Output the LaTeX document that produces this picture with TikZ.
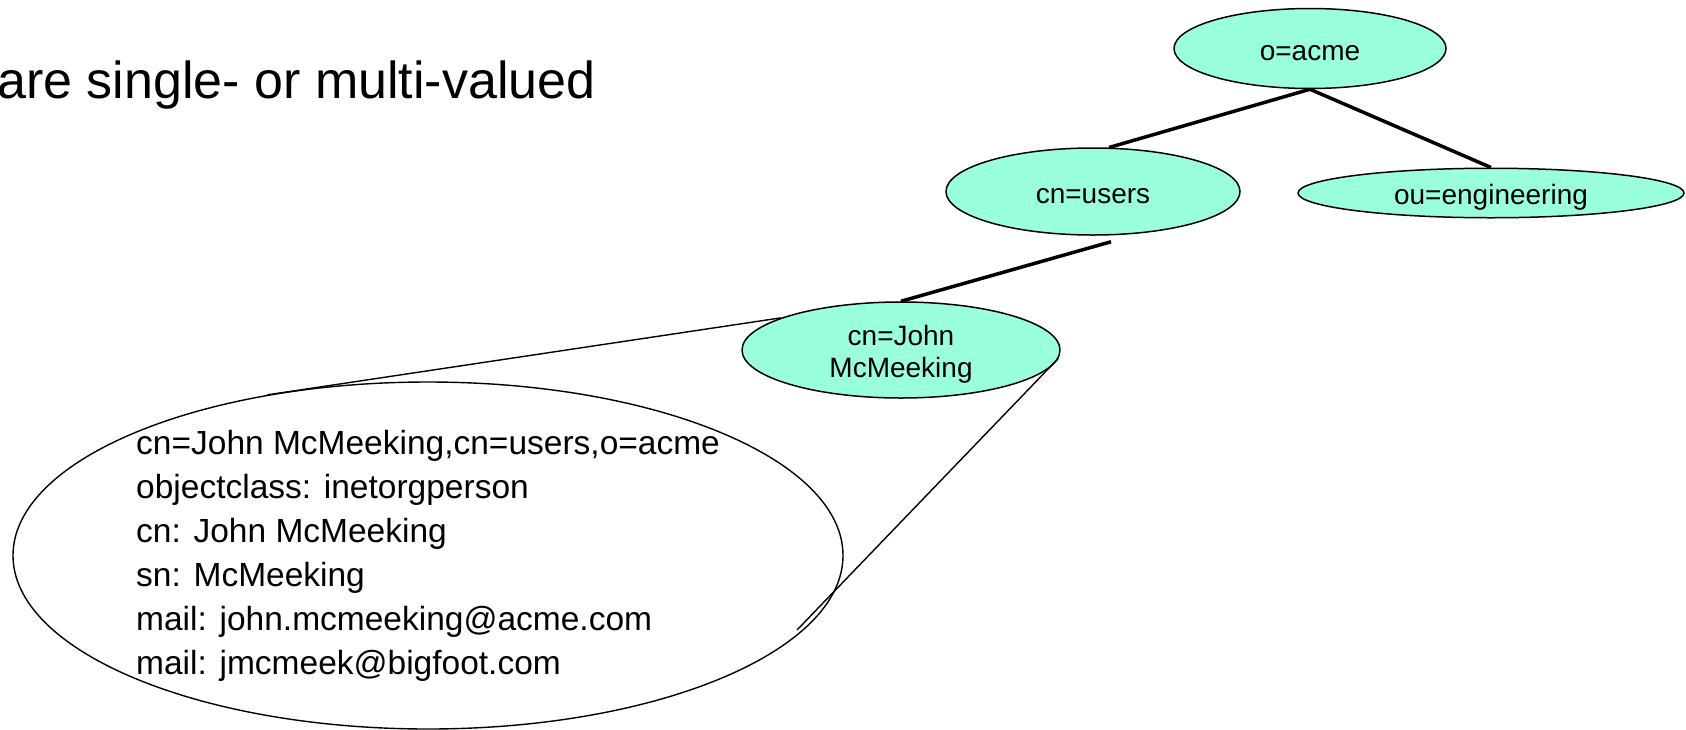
\documentclass[tikz,border=0pt]{standalone}
\usepackage{fontspec}
\setmainfont{Liberation Sans}
\frenchspacing
\usetikzlibrary{shapes.geometric,calc}
\definecolor{mint}{RGB}{153,255,221}
% attribute name separator: colon followed by a slightly wide gap
\newcommand\attrcolon{:\hspace{0.38em}}
\tikzset{
  treenode/.style={ellipse, draw=black, line width=1.5pt, fill=mint, inner sep=0pt,
                   align=center, font=\fontsize{28}{32}\selectfont},
  oneline/.style={text height=29pt, text depth=6pt},
  branch/.style={line width=3.5pt},
  callout/.style={line width=1.4pt},
  attrline/.style={anchor=base west, inner sep=0pt, font=\fontsize{33.5}{44}\selectfont},
}
\begin{document}
\begin{tikzpicture}[x=1pt,y=-1pt]
\useasboundingbox (0,0) rectangle (1686,729);

% heading (runs off the left edge)
\node[anchor=base west, inner sep=0pt, font=\fontsize{52}{60}\selectfont] (title) at (-3,98)
  {are single- or multi-valued};

% expanded view of the entry
\node[ellipse, draw=black, line width=1.4pt, minimum width=830pt, minimum height=347pt,
      inner sep=0pt] (entry) at (428,555.5) {};
\node[attrline] (a1) at (136,454) {cn=John McMeeking,cn=users,o=acme};
\node[attrline] (a2) at (136,498) {objectclass\attrcolon inetorgperson};
\node[attrline] (a3) at (136,542) {cn\attrcolon John McMeeking};
\node[attrline] (a4) at (136,586) {sn\attrcolon McMeeking};
\node[attrline] (a5) at (136,630) {mail\attrcolon john.mcmeeking@acme.com};
\node[attrline] (a6) at (136,674) {mail\attrcolon jmcmeek@bigfoot.com};

% directory tree
\node[treenode, oneline, minimum width=272pt, minimum height=80pt] (acme) at (1310,48.5) {o=acme};
\node[treenode, oneline, minimum width=294pt, minimum height=87pt] (users) at (1093,191.5) {cn=users};
\node[treenode, oneline, minimum width=386pt, minimum height=49pt] (eng) at (1491,193) {ou=engineering};
\node[treenode, minimum width=318pt, minimum height=96pt] (john) at (901,350)
  {\rule{0pt}{29pt}cn=John\\McMeeking};

\coordinate (tipB) at (797,630);

\draw[branch] (acme.south) -- (users.70);
\draw[branch] (acme.south) -- (eng.north);
\draw[branch] ($(users.south)+(18,6)$) -- (john.north);

% callout lines from the entry node to its expanded view
\draw[callout] (john.165) -- (entry.135);
\draw[callout] (john.-3) -- (tipB);
\end{tikzpicture}
\end{document}
